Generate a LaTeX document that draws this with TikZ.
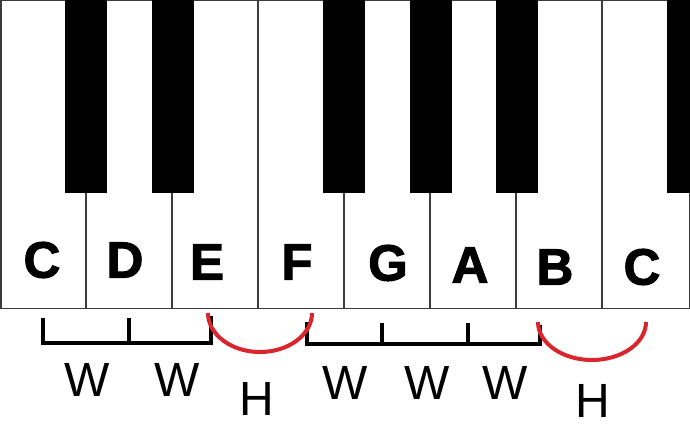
\documentclass[tikz,border=0pt]{standalone}
\usepackage{fontspec}
\setmainfont{Liberation Sans}
\newfontfamily\notefont{Liberation Sans}[BoldFeatures={FakeBold=2}]
\definecolor{arcred}{RGB}{218,37,44}
\definecolor{keyline}{RGB}{60,60,60}
\begin{document}
\begin{tikzpicture}[x=1pt,y=-1pt,
    notename/.style={font=\fontsize{51}{51}\notefont\bfseries,inner sep=0pt},
    stepname/.style={font=\fontsize{48}{48}\selectfont,inner sep=0pt},
    keyedge/.style={draw=keyline,line width=1.5pt},
    bracket/.style={line width=4pt,line join=miter},
    halfarc/.style={draw=arcred,line width=4pt}]
  \useasboundingbox (0,0) rectangle (690,425);
  % white keys
  \fill[white] (0,0) rectangle (690,309);
  \draw[keyedge] (0.75,309) -- (0.75,0.75) -- (689.25,0.75) -- (689.25,309);
  \draw[keyedge] (0,308.5) -- (690,308.5);
  \draw[keyedge] (86,0) -- (86,309);
  \draw[keyedge] (172,0) -- (172,309);
  \draw[keyedge] (258,0) -- (258,309);
  \draw[keyedge] (344,0) -- (344,309);
  \draw[keyedge] (430,0) -- (430,309);
  \draw[keyedge] (516,0) -- (516,309);
  \draw[keyedge] (602,0) -- (602,309);
  % black keys
  \fill (65,0) rectangle (107,193);
  \fill (152,0) rectangle (194,193);
  \fill (323,0) rectangle (365,193);
  \fill (410,0) rectangle (452,193);
  \fill (496,0) rectangle (538,193);
  \fill (667,0) rectangle (690,193);
  % note names
  \node[notename] (c1) at (42,260) {C};
  \node[notename] (d) at (125,260) {D};
  \node[notename] (e) at (207,262) {E};
  \node[notename] (f) at (297,262) {F};
  \node[notename] (g) at (388,263) {G};
  \node[notename] (a) at (470,265) {A};
  \node[notename] (b) at (555,267) {B};
  \node[notename] (c2) at (642,267) {C};
  % whole steps
  \draw[bracket] (43,318) -- (43,343) -- (211,343) -- (211,316);
  \draw[bracket] (129,318) -- (129,343);
  \draw[bracket] (307,322) -- (307,344) -- (540,344) -- (540,325);
  \draw[bracket] (382,323) -- (382,344);
  \draw[bracket] (468,323) -- (468,344);
  % half steps
  \draw[halfarc] (208,313) arc[start angle=180,end angle=0,x radius=52,y radius=39];
  \draw[halfarc] (538,322) arc[start angle=180,end angle=0,x radius=54,y radius=38];
  \node[stepname] (w1) at (87,380) {W};
  \node[stepname] (w2) at (177,380) {W};
  \node[stepname] (h1) at (257,399) {H};
  \node[stepname] (w3) at (345,383) {W};
  \node[stepname] (w4) at (427,383) {W};
  \node[stepname] (w5) at (505,383) {W};
  \node[stepname] (h2) at (593,401) {H};
\end{tikzpicture}
\end{document}
